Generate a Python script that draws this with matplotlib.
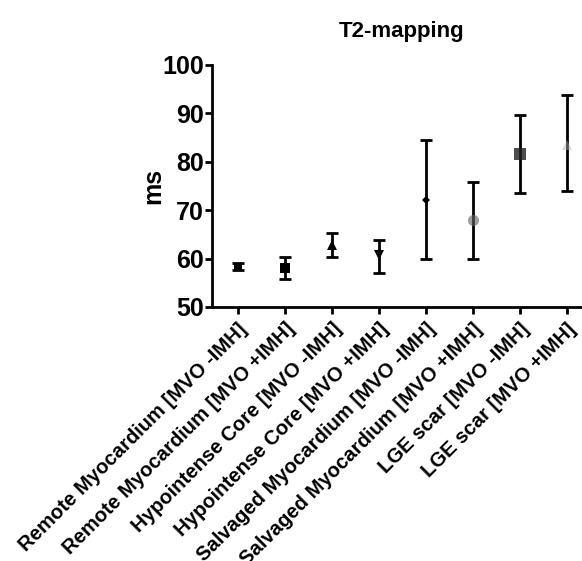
#!/usr/bin/env python3

import matplotlib
matplotlib.use("Agg")
import matplotlib.pyplot as plt

plt.rcParams['font.family'] = ['Liberation Sans', 'DejaVu Sans']
plt.rcParams['font.weight'] = 'bold'

# values (ms)
groups = [
    "Remote Myocardium [MVO -IMH]",
    "Remote Myocardium [MVO +IMH]",
    "Hypointense Core [MVO -IMH]",
    "Hypointense Core [MVO +IMH]",
    "Salvaged Myocardium [MVO -IMH]",
    "Salvaged Myocardium [MVO +IMH]",
    "LGE scar [MVO -IMH]",
    "LGE scar [MVO +IMH]",
]
means = [58.3, 58.1, 62.8, 60.7, 72.1, 67.9, 81.6, 83.5]
upper = [59.0, 60.3, 65.3, 63.8, 84.5, 75.8, 89.7, 93.7]
lower = [57.6, 55.8, 60.4, 57.0, 59.9, 60.0, 73.5, 74.0]

markers = ['s', 's', '^', 'v', 'D', 'o', 's', '^']
msizes = [6, 7.5, 7, 7, 4, 8, 8, 7]
mcolors = ['black', 'black', 'black', 'black', 'black', '#606060', '#202020', '#b0b0b0']
malphas = [1, 1, 1, 1, 1, 0.6, 0.8, 0.45]

fig = plt.figure(figsize=(5.82, 5.61), dpi=100)
ax = fig.add_axes([211.7 / 582, 1 - 307 / 561, 380.7 / 582, 242 / 561])

for i in range(len(groups)):
    yerr = [[means[i] - lower[i]], [upper[i] - means[i]]]
    ax.errorbar([i], [means[i]], yerr=yerr, fmt='none', ecolor='black',
                elinewidth=2, capsize=4.5, capthick=2, zorder=2)
    ax.plot([i], [means[i]], marker=markers[i], ms=msizes[i], color=mcolors[i],
            alpha=malphas[i], mew=0, linestyle='none', zorder=3)

ax.set_xlim(-0.55, 7.55)
ax.set_ylim(50, 100)
ax.set_yticks([50, 60, 70, 80, 90, 100])
ax.set_xticks(range(len(groups)))
ax.set_xticklabels(groups, rotation=45, ha='right', rotation_mode='anchor',
                   fontsize=14.6, fontweight='bold')
for lab in ax.get_yticklabels():
    lab.set_fontsize(18)
    lab.set_fontweight('bold')

ax.spines['top'].set_visible(False)
ax.spines['right'].set_visible(False)
ax.spines['left'].set_linewidth(2)
ax.spines['bottom'].set_linewidth(2)
ax.tick_params(axis='both', width=2, length=5, direction='out')
ax.tick_params(axis='y', pad=0.5)
ax.tick_params(axis='x', pad=4)

ax.set_ylabel("ms", fontsize=18, fontweight='bold', labelpad=-2)
ax.set_title("T2-mapping", fontsize=16, fontweight='bold', pad=20)

fig.savefig("out.png", dpi=100)
